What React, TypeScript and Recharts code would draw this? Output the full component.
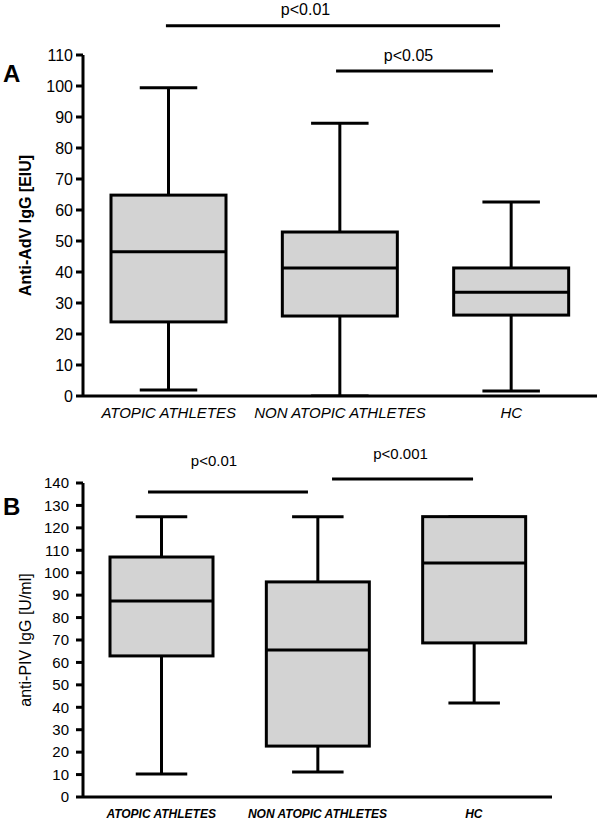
import React from 'react';
import { ComposedChart, Bar, XAxis, YAxis, ReferenceLine, ReferenceDot } from 'recharts';

const categories = ['ATOPIC ATHLETES', 'NON ATOPIC ATHLETES', 'HC'];
const groupPos = [1, 2, 3];

// Panel A: Anti-AdV IgG [EIU]
const advMin = [1.9, 0, 1.6];
const advQ1 = [23.9, 25.8, 26.1];
const advMedian = [46.5, 41.3, 33.5];
const advQ3 = [64.8, 52.9, 41.3];
const advMax = [99.4, 88, 62.6];
const advTicks = [0, 10, 20, 30, 40, 50, 60, 70, 80, 90, 100, 110];

// Panel B: anti-PIV IgG [U/ml]
const pivMin = [10.3, 11.2, 41.9];
const pivQ1 = [62.9, 22.7, 68.7];
const pivMedian = [87.4, 65.5, 104.3];
const pivQ3 = [107, 95.9, 125];
const pivMax = [125, 125, 125];
const pivTicks = [0, 10, 20, 30, 40, 50, 60, 70, 80, 90, 100, 110, 120, 130, 140];

// Significance annotations (x on the 1..3 group scale, y in data units)
const advSigLabels = ['p<0.01', 'p<0.05'];
const advSigX1 = [0.984, 1.977];
const advSigX2 = [2.934, 2.893];
const advSigY = [119.4, 104.8];
const advSigTextX = [1.799, 2.4];
const advSigTextY = [124.7, 109.8];

const pivSigLabels = ['p<0.01', 'p<0.001'];
const pivSigX1 = [0.916, 2.093];
const pivSigX2 = [1.939, 2.995];
const pivSigY = [136.0, 141.8];
const pivSigTextX = [1.338, 2.531];
const pivSigTextY = [149.8, 152.9];

const FONT = '"Liberation Sans", Arial, sans-serif';

const build = (mn: number[], q1: number[], md: number[], q3: number[], mx: number[]) =>
  categories.map((name, i) => ({ name, pos: groupPos[i], min: mn[i], q1: q1[i], median: md[i], q3: q3[i], max: mx[i] }));

const advData = build(advMin, advQ1, advMedian, advQ3, advMax);
const pivData = build(pivMin, pivQ1, pivMedian, pivQ3, pivMax);

const BoxShape = (props: any) => {
  const { x, y, width, height, payload } = props;
  if (!payload) return null;
  const top = Math.min(y, y + height);
  const bot = Math.max(y, y + height);
  const span = payload.max - payload.min;
  const ppu = span > 0 ? (bot - top) / span : 0;
  const py = (v: number) => bot - (v - payload.min) * ppu;
  const cx = x + width / 2;
  const capHalf = width / 4;
  const yQ1 = py(payload.q1);
  const yQ3 = py(payload.q3);
  const yMed = py(payload.median);
  const yMax = py(payload.max);
  const yMin = py(payload.min);
  const sw = 3;
  return (
    <g>
      <line x1={cx} x2={cx} y1={yMax} y2={yQ3} stroke="#000" strokeWidth={sw} />
      <line x1={cx} x2={cx} y1={yQ1} y2={yMin} stroke="#000" strokeWidth={sw} />
      <line x1={cx - capHalf} x2={cx + capHalf} y1={yMax} y2={yMax} stroke="#000" strokeWidth={sw} />
      <line x1={cx - capHalf} x2={cx + capHalf} y1={yMin} y2={yMin} stroke="#000" strokeWidth={sw} />
      <rect x={x} y={yQ3} width={width} height={yQ1 - yQ3} fill="#d3d3d3" stroke="#000" strokeWidth={sw} />
      <line x1={x} x2={x + width} y1={yMed} y2={yMed} stroke="#000" strokeWidth={sw} />
    </g>
  );
};

const yLabel = (text: string, bold: boolean) => (p: any) => {
  const vb = p.viewBox || {};
  const cx = 25;
  const cy = vb.y + vb.height / 2;
  return (
    <text
      x={cx}
      y={cy}
      transform={`rotate(-90, ${cx}, ${cy})`}
      textAnchor="middle"
      dominantBaseline="central"
      fontFamily={FONT}
      fontSize={16}
      fontWeight={bold ? 'bold' : 'normal'}
      fill="#000"
    >
      {text}
    </text>
  );
};

const Panel = (p: any) => (
  <ComposedChart width={p.width} height={p.height} data={p.data} margin={p.margin}>
    <XAxis
      dataKey="pos"
      type="number"
      domain={[0.5, 3.5]}
      allowDataOverflow
      ticks={groupPos}
      interval={0}
      tickFormatter={(v: number) => categories[Math.round(v) - 1] ?? ''}
      tickLine={false}
      axisLine={{ stroke: '#000', strokeWidth: 3 }}
      tickSize={p.xTickSize}
      tickMargin={p.xTickMargin}
      height={p.xHeight}
      tick={{ fill: '#000', fontSize: p.xFont, fontStyle: 'italic', fontWeight: p.xBold ? 'bold' : 'normal', fontFamily: FONT }}
    />
    <YAxis
      width={83}
      domain={p.domain}
      ticks={p.ticks}
      interval={0}
      allowDataOverflow
      axisLine={{ stroke: '#000', strokeWidth: 3 }}
      tickLine={{ stroke: '#000', strokeWidth: 3 }}
      tickSize={7}
      tickMargin={p.yTickMargin}
      tick={{ fill: '#000', fontSize: p.tickFont, fontFamily: FONT }}
      label={yLabel(p.yText, p.yBold)}
    />
    <Bar
      dataKey={(d: any) => [d.min, d.max]}
      barSize={p.barSize}
      shape={BoxShape}
      isAnimationActive={false}
    />
    {p.sigLabels.map((lab: string, i: number) => (
      <ReferenceLine
        key={'l' + i}
        ifOverflow="visible"
        segment={[
          { x: p.sigX1[i], y: p.sigY[i] },
          { x: p.sigX2[i], y: p.sigY[i] },
        ]}
        stroke="#000"
        strokeWidth={3}
      />
    ))}
    {p.sigLabels.map((lab: string, i: number) => (
      <ReferenceDot
        key={'t' + i}
        ifOverflow="visible"
        x={p.sigTextX[i]}
        y={p.sigTextY[i]}
        r={0}
        fill="none"
        stroke="none"
        label={{ value: lab, position: 'center', fill: '#000', fontSize: p.sigFont, fontFamily: FONT }}
      />
    ))}
  </ComposedChart>
);

export default function App() {
  return (
    <div style={{ position: 'absolute', left: 0, top: 0, width: 600, height: 820, background: '#fff', fontFamily: FONT }}>
      <div style={{ position: 'absolute', left: 0, top: 0 }}>
        <Panel
          data={advData}
          width={600}
          height={430}
          margin={{ top: 55, right: 3, bottom: 4, left: 0 }}
          ticks={advTicks}
          domain={[0, 110]}
          tickFont={16}
          yTickMargin={3}
          xFont={15}
          xBold={false}
          xHeight={30}
          xTickSize={8}
          xTickMargin={3}
          barSize={115}
          yText="Anti-AdV IgG [EIU]"
          yBold={true}
          sigLabels={advSigLabels}
          sigX1={advSigX1}
          sigX2={advSigX2}
          sigY={advSigY}
          sigTextX={advSigTextX}
          sigTextY={advSigTextY}
          sigFont={16}
        />
      </div>
      <div style={{ position: 'absolute', left: 0, top: 430 }}>
        <Panel
          data={pivData}
          width={600}
          height={390}
          margin={{ top: 53, right: 48, bottom: 3, left: 0 }}
          ticks={pivTicks}
          domain={[0, 140]}
          tickFont={15}
          yTickMargin={7}
          xFont={12}
          xBold={true}
          xHeight={20}
          xTickSize={8}
          xTickMargin={4}
          barSize={103}
          yText="anti-PIV IgG [U/ml]"
          yBold={false}
          sigLabels={pivSigLabels}
          sigX1={pivSigX1}
          sigX2={pivSigX2}
          sigY={pivSigY}
          sigTextX={pivSigTextX}
          sigTextY={pivSigTextY}
          sigFont={15}
        />
      </div>
      <div style={{ position: 'absolute', left: 3, top: 62, fontSize: 24, lineHeight: '24px', fontWeight: 'bold', color: '#000' }}>A</div>
      <div style={{ position: 'absolute', left: 3, top: 495, fontSize: 24, lineHeight: '24px', fontWeight: 'bold', color: '#000' }}>B</div>
    </div>
  );
}
